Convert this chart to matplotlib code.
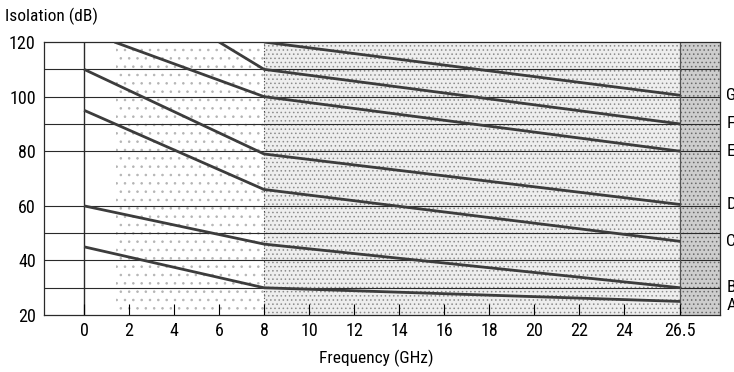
import matplotlib
matplotlib.use("Agg")
import matplotlib.pyplot as plt

plt.rcParams['font.family'] = ['Roboto Condensed', 'DejaVu Sans']
plt.rcParams['font.stretch'] = 'condensed'
plt.rcParams['hatch.linewidth'] = 0.6

# isolation curves (frequency in GHz, isolation in dB)
series_names = ['A', 'B', 'C', 'D', 'E', 'F', 'G']
freq_a = [0, 8, 26.5]
iso_a = [45, 30, 25]
freq_b = [0, 8, 26.5]
iso_b = [60, 46, 30]
freq_c = [0, 8, 26.5]
iso_c = [95, 66, 47]
freq_d = [0, 8, 26.5]
iso_d = [110, 79, 60.5]
freq_e = [1.35, 8, 26.5]
iso_e = [120, 100, 80]
freq_f = [6, 8, 26.5]
iso_f = [120, 110, 90]
freq_g = [8, 26.5]
iso_g = [120, 100.5]

x_ticks = [0, 2, 4, 6, 8, 10, 12, 14, 16, 18, 20, 22, 24, 26.5]
x_ticklabels = ['0', '2', '4', '6', '8', '10', '12', '14', '16', '18', '20', '22', '24', '26.5']
y_ticks = [20, 40, 60, 80, 100, 120]
grid_levels = [30, 40, 50, 60, 80, 90, 100, 110]

all_freq = [freq_a, freq_b, freq_c, freq_d, freq_e, freq_f, freq_g]
all_iso = [iso_a, iso_b, iso_c, iso_d, iso_e, iso_f, iso_g]

fig = plt.figure(figsize=(7.34, 3.72), dpi=100)
ax = fig.add_axes([0.060, 0.153, 0.921, 0.734])
ax.set_xlim(-1.78, 28.27)
ax.set_ylim(20, 120)

# stippled background bands
ax.axvspan(1.4, 8, facecolor='white', hatch='..', edgecolor='#b4b4b4', lw=0, zorder=0)
ax.axvspan(8, 26.5, facecolor='#eeeeee', hatch='....', edgecolor='#8c8c8c', lw=0, zorder=0)
ax.axvspan(26.5, 28.27, facecolor='#cdcdcd', hatch='....', edgecolor='#6a6a6a', lw=0, zorder=0)

for lev in grid_levels:
    ax.axhline(lev, color='#2a2a2a', lw=0.8, zorder=1)
ax.axvline(0, color='#2a2a2a', lw=1.0, zorder=1)
ax.axvline(8, color='#444444', lw=0.8, ls=(0, (1, 2)), zorder=1)
ax.axvline(26.5, color='#555555', lw=0.9, zorder=1)

for name, xs, ys in zip(series_names, all_freq, all_iso):
    ax.plot(xs, ys, color='#3c3c3c', lw=2.0, solid_capstyle='butt', zorder=3)
    dy = -3 if name == 'A' else 0
    ax.annotate(name, (28.55, ys[-1]), xytext=(0, dy), textcoords='offset points',
                ha='left', va='center', fontsize=12.5, annotation_clip=False)

ax.set_xticks(x_ticks)
ax.set_xticklabels(x_ticklabels)
ax.set_yticks(y_ticks)
ax.tick_params(axis='x', direction='in', length=8, width=0.8, pad=5, labelsize=13)
ax.tick_params(axis='y', length=0, pad=6, labelsize=13)
for sp in ax.spines.values():
    sp.set_linewidth(0.9)
    sp.set_color('#2a2a2a')

ax.set_xlabel('Frequency (GHz)', fontsize=12.5)
ax.xaxis.label.set_va('center')
ax.xaxis.set_label_coords(0.491, -0.157)
fig.text(0.007, 0.957, 'Isolation (dB)', fontsize=12.5, ha='left', va='center')

fig.savefig('out.png', dpi=100)
